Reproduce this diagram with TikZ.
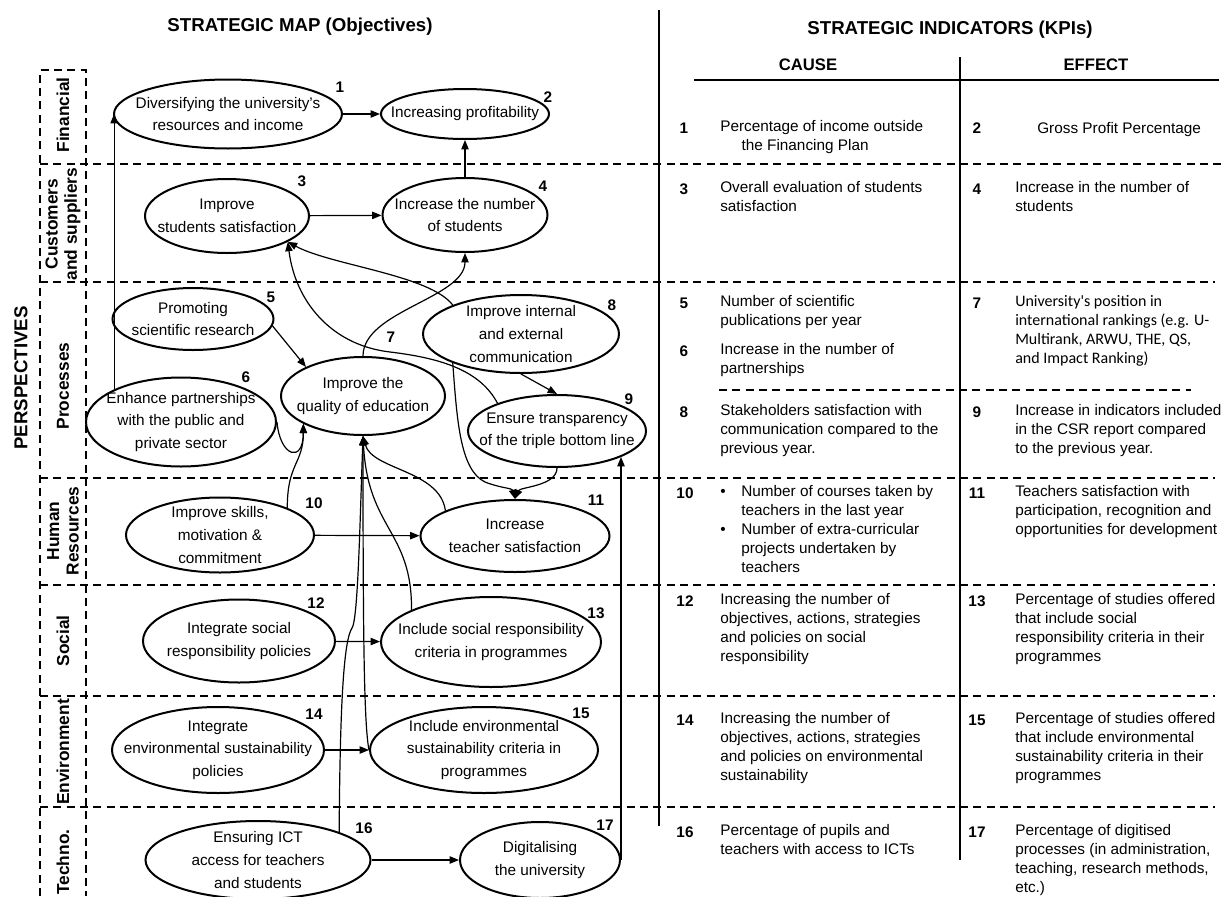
\documentclass[tikz,border=0pt]{standalone}
\usepackage{fontspec}
\setmainfont{Liberation Sans}
\newfontfamily\calfont{Carlito}
\usetikzlibrary{arrows.meta,shapes.geometric}

\tikzset{
  obj/.style={ellipse,draw,line width=1.5pt,inner sep=0pt},
  sz/.style 2 args={minimum width=#1*.75pt,minimum height=#2*.75pt},
  txt/.style={align=center,font=\fontsize{11.5}{16.9}\selectfont},
  num/.style={font=\bfseries\fontsize{11.5}{13}\selectfont},
  title/.style={font=\bfseries\fontsize{14}{16}\selectfont},
  head/.style={font=\bfseries\fontsize{12.5}{15}\selectfont},
  persp/.style={rotate=90,align=center,font=\bfseries\fontsize{13}{14.5}\selectfont},
  kpi/.style={anchor=north west,inner sep=0pt,align=left,yshift=5.85pt,
    font=\fontsize{11.5}{14.25}\selectfont,execute at begin node=\strut},
  kpinum/.style={kpi,anchor=north,font=\bfseries\fontsize{11.5}{14.25}\selectfont},
  sep/.style={dash pattern=on 6pt off 4pt,line width=0.9pt},
  rule/.style={line width=1.1pt},
  link/.style={-{Triangle[length=7pt,width=5.5pt]},line width=0.9pt},
}

\begin{document}
\begin{tikzpicture}[x=0.75pt,y=-0.75pt]
  \useasboundingbox (0,0) rectangle (1231,896);

  % titles
  \node[title] (tmap) at (300,27) {STRATEGIC MAP (Objectives)};
  \node[title] (tkpi) at (950,30) {STRATEGIC INDICATORS (KPIs)};
  \node[head] (hcause) at (808,65) {CAUSE};
  \node[head] (heffect) at (1096,65) {EFFECT};

  % perspective column
  \draw[sep] (40,896) -- (40,70) -- (86,70) -- (86,896);
  \foreach \y/\e in {164/1226,282/1215,478/1215,585/1215,696/1215,807/1215}
    \draw[sep] (40,\y) -- (\e,\y);
  \draw[sep] (719,390) -- (1191,390);
  \node[persp,font=\bfseries\fontsize{14}{16}\selectfont] (lpersp) at (21,378) {PERSPECTIVES};
  \node[persp] (lfin) at (63,115) {Financial};
  \node[persp] (lcus) at (63,224) {Customers\\and suppliers};
  \node[persp] (lpro) at (63,386) {Processes};
  \node[persp] (lhum) at (63,531) {Human\\Resources};
  \node[persp] (lsoc) at (63,641) {Social};
  \node[persp] (lenv) at (63,752) {Environment};
  \node[persp] (ltec) at (63,862) {Techno.};

  % objectives
  \node[obj,sz={228}{69},label={[txt]center:{Diversifying the university's\\resources and income}}] (d1) at (228,114) {};
  \node[obj,sz={168}{50},label={[txt]center:{Increasing profitability}}] (d2) at (465,114) {};
  \node[obj,sz={164}{74},label={[txt]center:{Improve\\students satisfaction}}] (c3) at (227,216) {};
  \node[obj,sz={165}{74},label={[txt]center:{Increase the number\\of students}}] (c4) at (465,215) {};
  \node[obj,sz={161}{62},label={[txt]center:{Promoting\\scientific research}}] (p5) at (193,319) {};
  \node[obj,sz={190}{89},label={[txt]center:{Enhance partnerships\\with the public and\\private sector}}] (p6) at (181,422) {};
  \node[obj,sz={164}{78},label={[txt]center:{Improve the\\quality of education}}] (p7) at (363,396) {};
  \node[obj,sz={196}{78},label={[txt]center:{Improve internal\\and external\\communication}}] (p8) at (521,334) {};
  \node[obj,sz={178}{72},label={[txt]center:{Ensure transparency\\of the triple bottom line}}] (p9) at (557,431) {};
  \node[obj,sz={188}{75},label={[txt]center:{Improve skills,\\motivation \&\\commitment}}] (h10) at (220,535) {};
  \node[obj,sz={189}{72},label={[txt]center:{Increase\\teacher satisfaction}}] (h11) at (515,536) {};
  \node[obj,sz={192}{83},label={[txt]center:{Integrate social\\responsibility policies}}] (s12) at (239,641) {};
  \node[obj,sz={220}{90},label={[txt]center:{Include social responsibility\\criteria in programmes}}] (s13) at (491,642) {};
  \node[obj,sz={212}{86},label={[txt]center:{Integrate\\environmental sustainability\\policies}}] (e14) at (218,750) {};
  \node[obj,sz={228}{86},label={[txt]center:{Include environmental\\sustainability criteria in\\programmes}}] (e15) at (484,750) {};
  \node[obj,sz={225}{78},label={[txt]center:{Ensuring ICT\\access for teachers\\and students}}] (t16) at (258,860) {};
  \node[obj,sz={160}{76},label={[txt]center:{Digitalising\\the university}}] (t17) at (540,860) {};

  % objective numbers
  \foreach \n/\x/\y in {1/340/87,2/548/97,3/302/181,4/543/186,5/271/297,6/246/377,
      7/391/337,8/612/305,9/629/399,10/314/503,11/596/500,12/316/603,13/596/613,
      14/314/714,15/581/713,16/364/828,17/605/825}
    \node[num] (n\n) at (\x,\y) {\n};

  % cause-effect links
  \draw[link] (d1) -- (d2);
  \draw[link] (c4) -- (d2);
  \draw[link] (c3) -- (c4);
  \draw[link] (p6.154) -- (p6.154 |- d1.west);
  \draw[link] (p5.-5) -- (p7.153);
  \draw[link] (p6.east) .. controls +(3,35) and +(0,40) .. (p7.205);
  \draw[link] (h10.22) .. controls +(0,-45) and +(0,40) .. (p7.205);
  \draw[link] (p7.north) .. controls +(0,-45) and +(0,45) .. (c4.south);
  \draw[link] (p8.157) .. controls (430,275) and (330,265) .. (c3.-23);
  \draw[link] (p9.155) .. controls (480,370) and (440,358) .. (390,352)
    .. controls (330,345) and (295,300) .. (c3.-23);
  \draw[link] (p8.south) -- (p9.north);
  \draw[link] (p8.203) .. controls (457,420) and (460,470) .. (485,482)
    .. controls (500,488) and (512,488) .. (h11.north);
  \draw[link] (p9.south) .. controls +(0,18) and +(5,-12) .. (h11.north);
  \draw[link] (h10) -- (h11);
  \draw[link] (h11.160) .. controls (440,470) and (372,470) .. (p7.south);
  \draw[link] (s13.158) .. controls (412,530) and (368,530) .. (p7.south);
  \draw[link] (e15.west) .. controls +(-5,-25) and +(0,200) .. (p7.south);
  \draw[link] (t16.19) .. controls (340,700) and (344,640) .. (352,628)
    .. controls (358,620) and (360,520) .. (p7.south);
  \draw[link] (s12) -- (s13);
  \draw[link] (e14) -- (e15);
  \draw[link] (t16) -- (t17);
  \draw[link] (t17.east) -- (t17.east |- p9.-22);

  % indicator table
  \draw[rule] (659,10) -- (659,826);
  \draw[rule] (960,57) -- (960,860);
  \draw[rule] (694,80) -- (1219,80);

  \foreach \n/\x/\y in {1/684/128,2/977/128,3/684/189,4/977/189,5/684/303,6/684/351,
      7/977/303,8/684/412,9/977/412,10/685/493,11/977/493,12/685/601,13/977/601,
      14/685/720,15/977/720,16/685/832,17/977/832}
    \node[kpinum] (k\n) at (\x,\y) {\n};

  \node[kpi] (ca1) at (720,128) {Percentage of income outside\\\hspace*{16pt}the Financing Plan};
  \node[kpi] (ef2) at (1037,128) {Gross Profit Percentage};
  \node[kpi] (ca3) at (720,189) {Overall evaluation of students\\satisfaction};
  \node[kpi] (ef4) at (1015,189) {Increase in the number of\\students};
  \node[kpi] (ca5) at (720,303) {Number of scientific\\publications per year};
  \node[kpi] (ca6) at (720,351) {Increase in the number of\\partnerships};
  \node[kpi,font=\calfont\fontsize{12}{14.25}\selectfont] (ef7) at (1015,303)
    {University's position in\\international rankings (e.g. U-\\Multirank, ARWU, THE, QS,\\and Impact Ranking)};
  \node[kpi] (ca8) at (720,412) {Stakeholders satisfaction with\\communication compared to the\\previous year.};
  \node[kpi] (ef9) at (1015,412) {Increase in indicators included\\in the CSR report compared\\to the previous year.};
  \node[kpi] (ca10) at (720,493) {\makebox[15.75pt][l]{\textbullet}Number of courses taken by\\
    \hspace*{15.75pt}teachers in the last year\\
    \makebox[15.75pt][l]{\textbullet}Number of extra-curricular\\
    \hspace*{15.75pt}projects undertaken by\\
    \hspace*{15.75pt}teachers};
  \node[kpi] (ef11) at (1015,493) {Teachers satisfaction with\\participation, recognition and\\opportunities for development};
  \node[kpi] (ca12) at (720,601) {Increasing the number of\\objectives, actions, strategies\\and policies on social\\responsibility};
  \node[kpi] (ef13) at (1015,601) {Percentage of studies offered\\that include social\\responsibility criteria in their\\programmes};
  \node[kpi] (ca14) at (720,720) {Increasing the number of\\objectives, actions, strategies\\and policies on environmental\\sustainability};
  \node[kpi] (ef15) at (1015,720) {Percentage of studies offered\\that include environmental\\sustainability criteria in their\\programmes};
  \node[kpi] (ca16) at (720,832) {Percentage of pupils and\\teachers with access to ICTs};
  \node[kpi] (ef17) at (1015,832) {Percentage of digitised\\processes (in administration,\\teaching, research methods,\\etc.)};
\end{tikzpicture}
\end{document}
